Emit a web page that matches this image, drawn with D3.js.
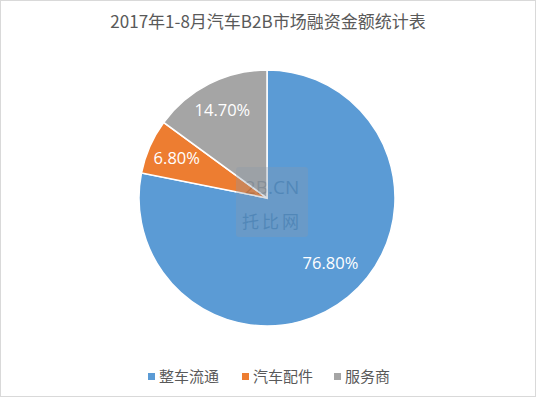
<!DOCTYPE html>
<html><head><meta charset="utf-8">
<script src="https://cdn.jsdelivr.net/npm/d3@7"></script>
<style>html,body{margin:0;padding:0;background:#fff;}svg{display:block;font-family:"Noto Sans CJK SC","Microsoft YaHei",sans-serif;}</style>
</head><body>
<svg id="c" width="538" height="397"></svg>
<script>
const title = "2017年1-8月汽车B2B市场融资金额统计表";
const categories = ["整车流通", "汽车配件", "服务商"];
const values = [76.8, 6.8, 14.7];
const labels = ["76.80%", "6.80%", "14.70%"];
const colors = ["#5B9BD5", "#ED7D31", "#A5A5A5"];

const svg = d3.select("#c");
svg.append("rect").attr("x",0.5).attr("y",0.5).attr("width",535).attr("height",396)
  .attr("fill","#fff").attr("stroke","#d9d9d9");

svg.append("text").attr("x",268).attr("y",28).attr("text-anchor","middle")
  .attr("font-size",17).attr("fill","#595959").text(title);

const cx = 267, cy = 198, r = 128;
const pie = d3.pie().sort(null).value(d=>d)(values);
const arc = d3.arc().innerRadius(0).outerRadius(r);
const g = svg.append("g").attr("transform",`translate(${cx},${cy})`);
g.selectAll("path").data(pie).join("path")
  .attr("d",arc).attr("fill",(d,i)=>colors[i])
  .attr("stroke","#fff").attr("stroke-width",1.5);

const bigArc = d3.arc().innerRadius(r*0.72).outerRadius(r*0.72);
const smallArc = d3.arc().innerRadius(r*0.77).outerRadius(r*0.77);
g.selectAll("text.l").data(pie).join("text").attr("class","l")
  .attr("transform",(d,i)=>{const c=(i===0?bigArc:smallArc).centroid(d);return `translate(${c[0]+(i===0?5:0)},${c[1]-(i===0?6:0)})`;})
  .attr("text-anchor","middle").attr("dy","0.35em")
  .attr("font-size",16.5).attr("fill","#fff")
  .attr("font-family","'Open Sans',sans-serif")
  .text((d,i)=>labels[i]);

// watermark
const wm = svg.append("g").attr("opacity",0.3);
wm.append("rect").attr("x",236).attr("y",167).attr("width",72).attr("height",70).attr("rx",3)
  .attr("fill","#8a9aab");
wm.append("text").attr("x",272).attr("y",194).attr("text-anchor","middle")
  .attr("font-size",19).attr("fill","#3d5a78").attr("font-family","'Open Sans',sans-serif").text("2B.CN");
wm.append("text").attr("x",272).attr("y",228).attr("text-anchor","middle")
  .attr("font-size",17).attr("fill","#3d5a78").attr("letter-spacing",3).text("托比网");

// legend
const legX = [148, 242, 334];
const leg = svg.append("g");
categories.forEach((c,i)=>{
  leg.append("rect").attr("x",legX[i]).attr("y",373).attr("width",7).attr("height",7).attr("fill",colors[i]);
  leg.append("text").attr("x",legX[i]+11).attr("y",382).attr("font-size",15).attr("fill","#595959").text(c);
});
</script>
</body></html>
